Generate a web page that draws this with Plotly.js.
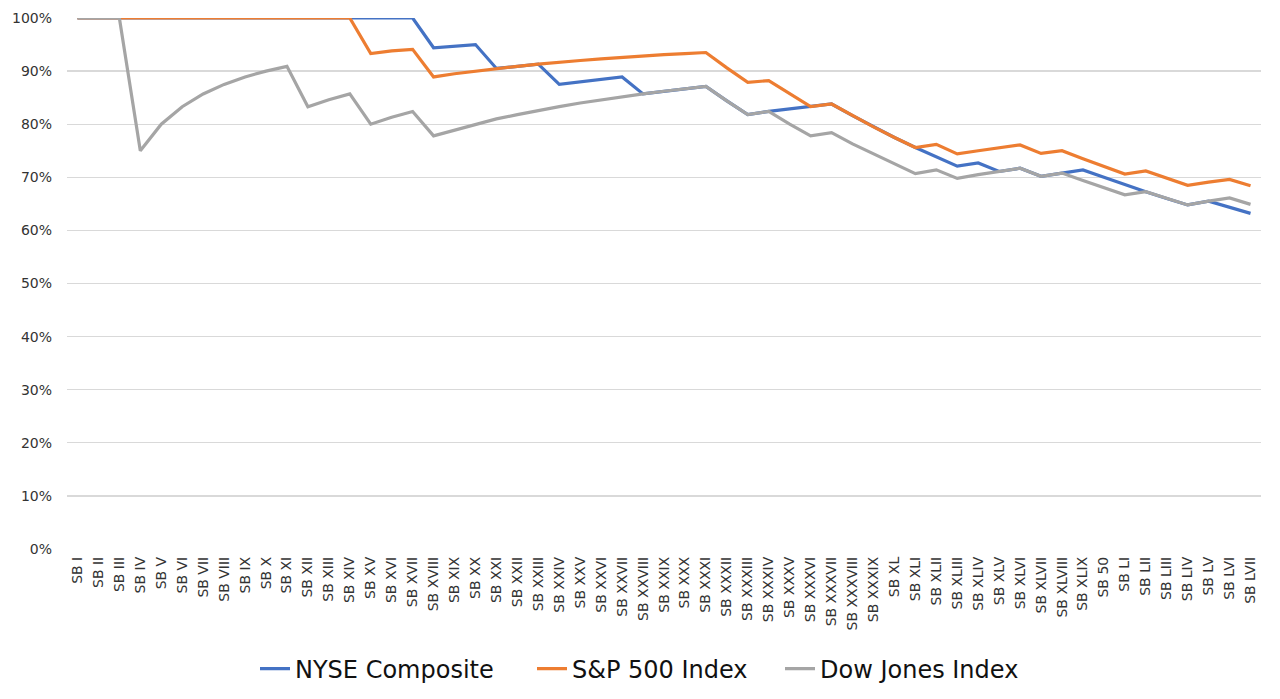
<!DOCTYPE html>
<html>
<head>
<meta charset="utf-8">
<script src="https://cdn.plot.ly/plotly-3.0.1.min.js"></script>
<style>
html,body{margin:0;padding:0;background:#fff;}
#chart{width:1280px;height:699px;}
</style>
</head>
<body>
<div id="chart"></div>
<script>
var categories = ["SB I","SB II","SB III","SB IV","SB V","SB VI","SB VII","SB VIII","SB IX","SB X",
"SB XI","SB XII","SB XIII","SB XIV","SB XV","SB XVI","SB XVII","SB XVIII","SB XIX","SB XX",
"SB XXI","SB XXII","SB XXIII","SB XXIV","SB XXV","SB XXVI","SB XXVII","SB XXVIII","SB XXIX","SB XXX",
"SB XXXI","SB XXXII","SB XXXIII","SB XXXIV","SB XXXV","SB XXXVI","SB XXXVII","SB XXXVIII","SB XXXIX","SB XL",
"SB XLI","SB XLII","SB XLIII","SB XLIV","SB XLV","SB XLVI","SB XLVII","SB XLVIII","SB XLIX","SB 50",
"SB LI","SB LII","SB LIII","SB LIV","SB LV","SB LVI","SB LVII"];

var nyse = [100,100,100,100,100,100,100,100,100,100,
100,100,100,100,100,100,100,94.4,94.7,95.0,
90.5,90.9,91.3,87.5,88.0,88.5,88.9,85.7,86.2,86.7,
87.1,84.4,81.8,82.4,82.9,83.3,83.8,81.6,79.5,77.5,
75.6,73.8,72.1,72.7,71.1,71.7,70.2,70.8,71.4,70.0,
68.6,67.3,66.0,64.8,65.5,64.3,63.2];

var sp500 = [100,100,100,100,100,100,100,100,100,100,
100,100,100,100,93.3,93.8,94.1,88.9,89.5,90.0,
90.5,90.9,91.3,91.7,92.0,92.3,92.6,92.9,93.1,93.3,
93.5,90.6,87.9,88.2,85.7,83.3,83.8,81.6,79.5,77.5,
75.6,76.2,74.4,75.0,75.6,76.1,74.5,75.0,73.5,72.0,
70.6,71.2,69.8,68.5,69.1,69.6,68.4];

var dow = [100,100,100,75.0,80.0,83.3,85.7,87.5,88.9,90.0,
90.9,83.3,84.6,85.7,80.0,81.3,82.4,77.8,78.9,80.0,
81.0,81.8,82.6,83.3,84.0,84.6,85.2,85.7,86.2,86.7,
87.1,84.4,81.8,82.4,80.0,77.8,78.4,76.3,74.4,72.5,
70.7,71.4,69.8,70.5,71.1,71.7,70.2,70.8,69.4,68.0,
66.7,67.3,66.0,64.8,65.5,66.1,64.9];

var seriesNames = ["NYSE Composite","S&P 500 Index","Dow Jones Index"];
var seriesColors = ["#4472C4","#ED7D31","#A5A5A5"];
var seriesData = [nyse, sp500, dow];
var legendIds = ["legend","legend2","legend3"];

var traces = seriesData.map(function(vals,i){
  return {
    x: categories,
    y: vals.map(function(v){return v/100;}),
    type: "scatter",
    mode: "lines",
    name: seriesNames[i],
    legend: legendIds[i],
    line: {color: seriesColors[i], width: 3.2}
  };
});

var FONT = "'DejaVu Sans', Verdana, sans-serif";
function leg(xpx){
  return {orientation: "h", xref: "container", x: xpx / 1280, xanchor: "left",
          yref: "container", y: 1 - 669 / 699, yanchor: "middle",
          font: {size: 24, color: "#111", family: FONT},
          bgcolor: "rgba(0,0,0,0)"};
}

var layout = {
  width: 1280, height: 699,
  margin: {l: 67, r: 19, t: 18, b: 150},
  paper_bgcolor: "#fff", plot_bgcolor: "#fff",
  font: {family: FONT, color: "#333", size: 14},
  showlegend: true,
  legend: leg(255),
  legend2: leg(532),
  legend3: leg(780),
  xaxis: {
    type: "category",
    range: [-0.5, 56.5],
    tickangle: -90,
    tickfont: {size: 14, color: "#333", family: FONT},
    showgrid: false,
    showline: false,
    ticks: "",
    zeroline: false,
    automargin: false,
    ticklabelstandoff: 4
  },
  yaxis: {
    range: [0, 1.0],
    dtick: 0.1,
    tickformat: ".0%",
    tickfont: {size: 14, color: "#333", family: FONT},
    gridcolor: "#d9d9d9",
    gridwidth: 1.3,
    zeroline: false,
    showline: false,
    ticks: "",
    automargin: false,
    ticklabelstandoff: 14
  }
};

Plotly.newPlot("chart", traces, layout, {displayModeBar: false, staticPlot: true});
</script>
</body>
</html>
